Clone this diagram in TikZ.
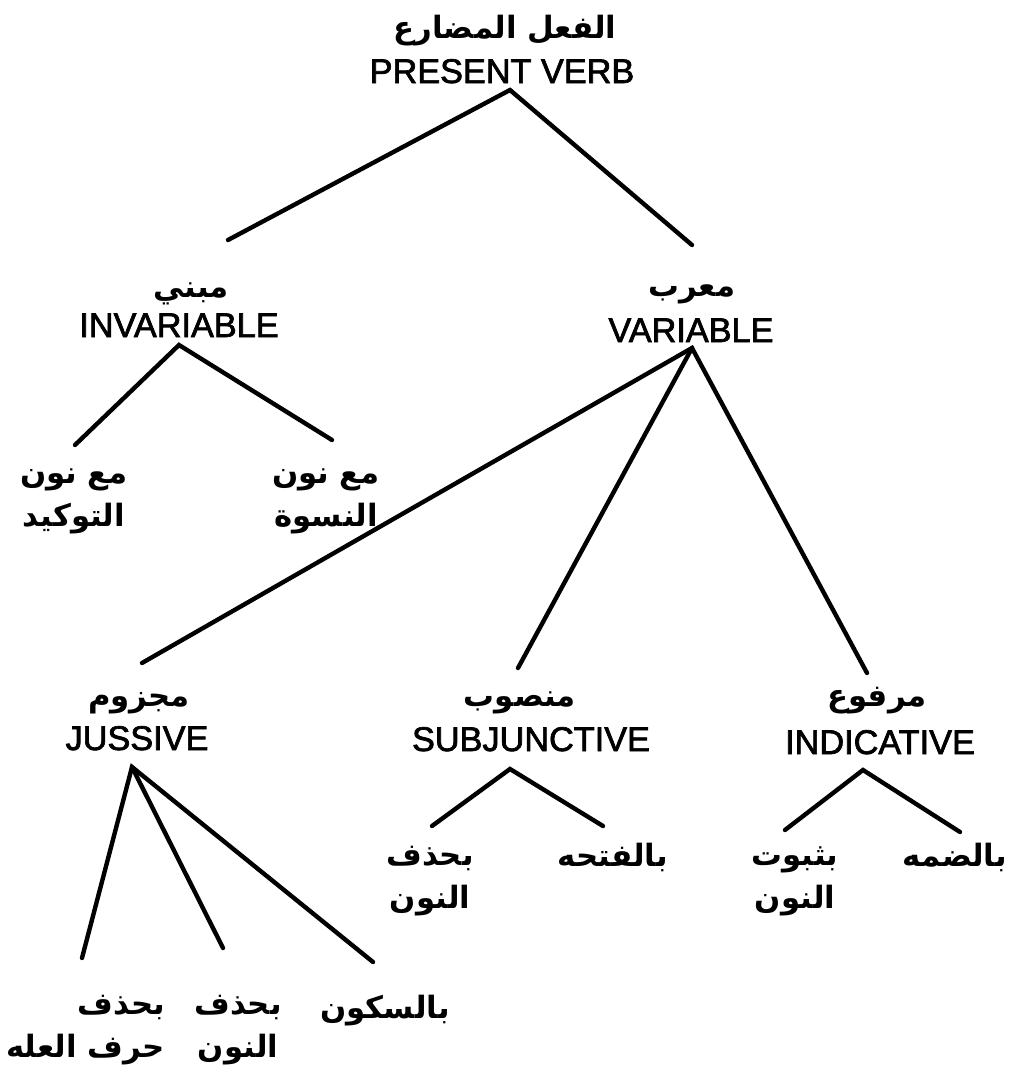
\documentclass[tikz,border=0pt]{standalone}
\usepackage{fontspec}
\setmainfont{Liberation Sans}
\newfontfamily\engfont[FakeBold=2]{Liberation Sans}
\newfontfamily\arabicfont[Script=Arabic]{DejaVu Sans}
\TeXXeTstate=1
\newcommand{\rl}[1]{\beginR #1\endR}

\begin{document}
\begin{tikzpicture}[x=0.02cm, y=-0.02cm,
    eng/.style={font=\engfont\fontsize{19.5}{22}\selectfont, inner sep=0pt, anchor=base},
    arb/.style={font=\arabicfont\bfseries\fontsize{17.5}{24}\selectfont, inner sep=0pt, anchor=base, align=center},
    branch/.style={line width=2.5pt, line cap=round}]
  \useasboundingbox (0,0) rectangle (1019,1072);

  % Root
  \node[arb] (root-ar) at (505,38) {\rl{الفعل المضارع}};
  \node[eng] (root-en) at (502,83) {PRESENT VERB};

  % Invariable and variable
  \node[arb] (inv-ar) at (191,297) {\rl{مبني}};
  \node[eng] (inv-en) at (179,337) {INVARIABLE};
  \node[arb] (var-ar) at (692,296) {\rl{معرب}};
  \node[eng] (var-en) at (691,342) {VARIABLE};

  % Invariable cases (anchor is on the last line)
  \node[arb] (tawkid) at (74,526) {\rl{مع نون}\\\rl{التوكيد}};
  \node[arb] (niswa) at (326,526) {\rl{مع نون}\\\rl{النسوة}};

  % Moods
  \node[arb] (jus-ar) at (139,706) {\rl{مجزوم}};
  \node[eng] (jus-en) at (137,750) {JUSSIVE};
  \node[arb] (sub-ar) at (520,706) {\rl{منصوب}};
  \node[eng] (sub-en) at (531,751) {SUBJUNCTIVE};
  \node[arb] (ind-ar) at (877,706) {\rl{مرفوع}};
  \node[eng] (ind-en) at (880,754) {INDICATIVE};

  % Jussive markers
  \node[arb, align=right, anchor=base west] (jus-illa) at (6,1057) {\rl{بحذف}\\\rl{حرف العله}};
  \node[arb] (jus-nun) at (238,1057) {\rl{بحذف}\\\rl{النون}};
  \node[arb] (jus-sukun) at (385,1018) {\rl{بالسكون}};

  % Subjunctive markers
  \node[arb] (sub-nun) at (430,908) {\rl{بحذف}\\\rl{النون}};
  \node[arb] (sub-fatha) at (613,866) {\rl{بالفتحه}};

  % Indicative markers
  \node[arb] (ind-nun) at (795,908) {\rl{بثبوت}\\\rl{النون}};
  \node[arb] (ind-damma) at (955,866) {\rl{بالضمه}};

  % Branch points
  \coordinate (root-apex) at (510,90);
  \coordinate (inv-top) at (228,240);
  \coordinate (var-top) at (692,245);
  \coordinate (inv-apex) at (179,345);
  \coordinate (tawkid-top) at (75,445);
  \coordinate (niswa-top) at (332,440);
  \coordinate (var-apex) at (692,348);
  \coordinate (jus-top) at (142,663);
  \coordinate (sub-top) at (518,668);
  \coordinate (ind-top) at (867,673);
  \coordinate (jus-apex) at (132,767);
  \coordinate (illa-top) at (82,958);
  \coordinate (nun-top) at (223,948);
  \coordinate (sukun-top) at (373,962);
  \coordinate (sub-apex) at (510,769);
  \coordinate (subnun-top) at (432,826);
  \coordinate (fatha-top) at (603,826);
  \coordinate (ind-apex) at (863,770);
  \coordinate (indnun-top) at (785,830);
  \coordinate (damma-top) at (960,832);

  % Branches
  \draw[branch] (inv-top) -- (root-apex) -- (var-top);
  \draw[branch] (tawkid-top) -- (inv-apex) -- (niswa-top);
  \draw[branch] (jus-top) -- (var-apex) -- (ind-top);
  \draw[branch] (var-apex) -- (sub-top);
  \draw[branch] (illa-top) -- (jus-apex) -- (sukun-top);
  \draw[branch] (jus-apex) -- (nun-top);
  \draw[branch] (subnun-top) -- (sub-apex) -- (fatha-top);
  \draw[branch] (indnun-top) -- (ind-apex) -- (damma-top);
\end{tikzpicture}
\end{document}
